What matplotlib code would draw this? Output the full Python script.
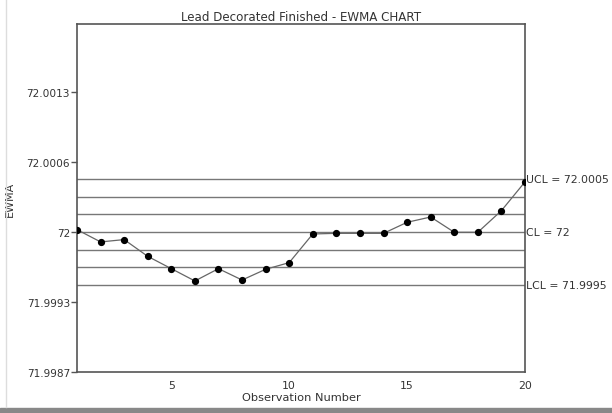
"""
EWMA 控制图 - Lead Decorated Finished
"""

import numpy as np
import matplotlib.pyplot as plt
from matplotlib.lines import Line2D

# 数据
obs = list(range(1, 21))
ewma = [72.000022, 71.999906, 71.999928, 71.999770, 71.999654,
        71.999538, 71.999654, 71.999547, 71.999648, 71.999711,
        71.999981, 71.999987, 71.999987, 71.999987, 72.000091,
        72.000141, 71.999997, 71.999997, 72.000201, 72.000472]
center = 72.0
ucl = 72.0005
lcl = 71.9995
ytick_vals = [71.99868, 71.99934, 72.0, 72.00066, 72.00132]
ytick_labels = ['71.9987', '71.9993', '72', '72.0006', '72.0013']
xtick_vals = [5, 10, 15, 20]

TXT = '#333333'
LINE = '#777777'

fig = plt.figure(figsize=(6.12, 4.14), dpi=100)
ax = fig.add_axes([77 / 612, 1 - 373 / 414, 448 / 612, 348 / 414])

# 控制线: CL 以及 ±1, ±2, ±3 sigma
sigma = (ucl - center) / 3
for k in range(-3, 4):
    ax.axhline(center + k * sigma, color=LINE, lw=1.0, zorder=1)

ax.plot(obs, ewma, color='#666666', lw=0.9, marker='o', ms=4.2,
        mfc='black', mec='black', zorder=3)

ax.set_xlim(1, 20)
ax.set_ylim(71.99868, 72.00196)
ax.set_xticks(xtick_vals)
ax.set_yticks(ytick_vals)
ax.set_yticklabels(ytick_labels)
ax.tick_params(axis='x', length=0, labelsize=7.8, labelcolor=TXT, pad=6)
ax.tick_params(axis='y', length=4, width=1, color='#555555',
               labelsize=7.6, labelcolor=TXT, pad=1)
for s in ax.spines.values():
    s.set_color('#555555')
    s.set_linewidth(1.2)

ax.set_xlabel('Observation Number', fontsize=8.2, color=TXT, labelpad=1)
ax.set_ylabel('EWMA', fontsize=8, color=TXT)
ax.yaxis.set_label_coords(-0.138, 0.5)
ax.set_title('Lead Decorated Finished - EWMA CHART', fontsize=8.6,
             color=TXT, pad=3)

# 右侧标签
for val, lab in [(ucl, 'UCL = 72.0005'), (center, 'CL = 72'),
                 (lcl, 'LCL = 71.9995')]:
    ax.text(1.003, val, lab, transform=ax.get_yaxis_transform(),
            ha='left', va='center', fontsize=7.8, color=TXT)

# 截图边框
fig.add_artist(Line2D([6 / 612, 6 / 612], [6 / 414, 1], color='#dddddd',
                      lw=1, transform=fig.transFigure))
fig.add_artist(plt.Rectangle((0, 0), 1, 5 / 414, color='#888888',
                             transform=fig.transFigure))

fig.savefig('out.png', dpi=100)
